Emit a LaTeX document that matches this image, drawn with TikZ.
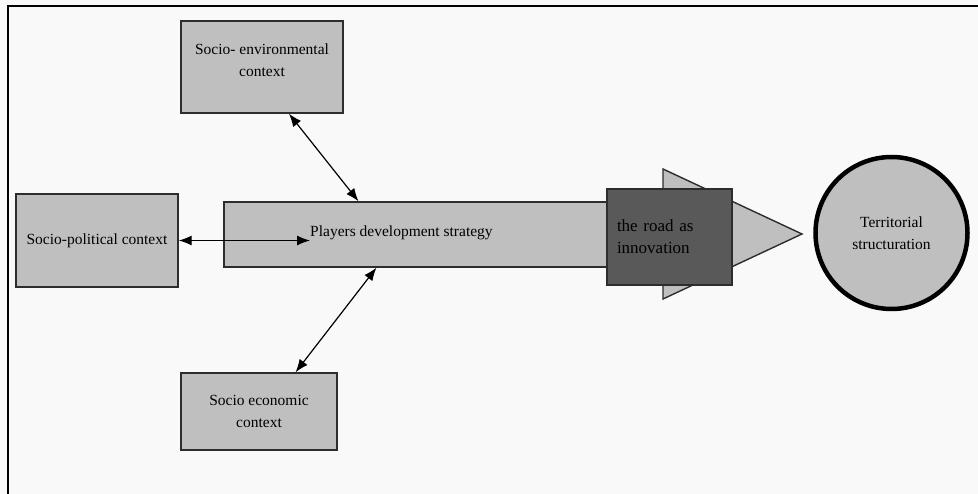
\documentclass[tikz,border=0pt]{standalone}
\usepackage{fontspec}
\setmainfont{Liberation Serif}
\usetikzlibrary{arrows.meta}
\definecolor{boxgray}{RGB}{191,191,191}
\definecolor{darkbox}{RGB}{89,89,89}
\definecolor{edgegray}{RGB}{45,45,45}
\definecolor{paper}{RGB}{249,249,249}

\begin{document}
\begin{tikzpicture}[x=1pt,y=-1pt,
  ctx/.style={draw=edgegray,fill=boxgray,line width=1.4pt,inner sep=0pt,align=center,font=\fontsize{15.5}{22}\selectfont},
  lbl/.style={inner sep=0pt,align=center,font=\fontsize{15.5}{22}\selectfont},
  biarrow/.style={{Latex[length=13pt,width=10pt]}-{Latex[length=13pt,width=10pt]},line width=1.2pt}]
  \useasboundingbox (0,0) rectangle (978,494);
  \fill[paper] (0,0) rectangle (978,494);
  \draw[line width=2pt] (7.5,494) -- (7.5,6) -- (978,6);

  \node[ctx,minimum width=162pt,minimum height=92pt] (env) at (262,67) {};
  \node[lbl] (envtxt) at (262,60) {Socio- environmental\\context};
  \node[ctx,minimum width=162pt,minimum height=93pt] (pol) at (97,240.5) {Socio-political context};
  \node[ctx,minimum width=156pt,minimum height=77pt] (eco) at (259,411.5) {Socio economic\\context};

  \node[ctx,minimum width=384pt,minimum height=65pt] (bar) at (416,234.5) {};
  \node[lbl,anchor=west] (players) at (310,233) {Players development strategy};
  \draw[edgegray,fill=boxgray,line width=1.4pt] (663,169) -- (802,234) -- (663,299) -- cycle;
  \node[draw=edgegray,fill=darkbox,line width=1.4pt,minimum width=125pt,minimum height=96pt,
    text width=105pt,inner xsep=10pt,align=left,font=\fontsize{17}{22}\selectfont] (road) at (669.5,237) {the road as\\innovation};
  \node[circle,draw=black,fill=boxgray,line width=4.5pt,minimum size=152pt,lbl] (terr) at (891.5,233) {Territorial\\structuration};

  \draw[biarrow] (env.-60) -- (bar.150);
  \draw[biarrow] (pol.east) -- (pol.east -| players.west);
  \draw[biarrow] (bar.-140) -- (eco.47);
\end{tikzpicture}
\end{document}
